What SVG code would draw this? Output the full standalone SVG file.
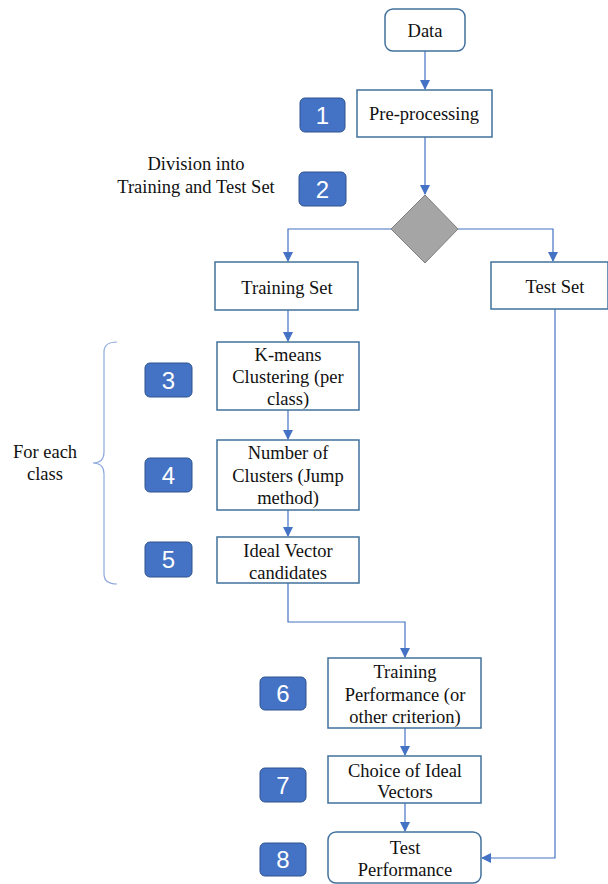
<svg xmlns="http://www.w3.org/2000/svg" width="608" height="884" viewBox="0 0 608 884">
<style>
.box{fill:#fff;stroke:#41719C;stroke-width:1.5}
.t{font-family:'Liberation Serif','Times New Roman','DejaVu Serif',serif;font-size:18.5px;fill:#111;text-anchor:middle}
.badge{fill:#4472C4;stroke:#2F528F;stroke-width:1}
.bt{font-family:'Liberation Sans',Arial,sans-serif;font-size:24px;fill:#fff;text-anchor:middle}
.ln{fill:none;stroke:#4472C4;stroke-width:1.2}
</style>
<defs>
<marker id="ah" markerWidth="10" markerHeight="10" refX="9" refY="5" orient="auto" markerUnits="userSpaceOnUse">
<path d="M0,0 L10,5 L0,10 Z" fill="#4472C4"/>
</marker>
</defs>
<g id="connectors">
<path class="ln" d="M425,51 V89" marker-end="url(#ah)"/>
<path class="ln" d="M425,137 V194" marker-end="url(#ah)"/>
<path class="ln" d="M391,229 H288 V261" marker-end="url(#ah)"/>
<path class="ln" d="M458,229 H553 V261" marker-end="url(#ah)"/>
<path class="ln" d="M288,310 V341" marker-end="url(#ah)"/>
<path class="ln" d="M288,410 V439" marker-end="url(#ah)"/>
<path class="ln" d="M288,510 V536" marker-end="url(#ah)"/>
<path class="ln" d="M288,583 V622 H405 V657" marker-end="url(#ah)"/>
<path class="ln" d="M405,728 V755" marker-end="url(#ah)"/>
<path class="ln" d="M405,803 V831" marker-end="url(#ah)"/>
<path class="ln" d="M555,309 V858 H482" marker-end="url(#ah)"/>
</g>
<g id="data"><rect class="box" x="385" y="9" width="80" height="42" rx="8"/><text class="t" x="425" y="37">Data</text></g>
<g id="preprocessing"><rect class="box" x="357" y="90" width="135" height="47"/><text class="t" x="424" y="120">Pre-processing</text></g>
<g id="division-label"><text class="t" x="196" y="170">Division into</text><text class="t" x="196" y="193">Training and Test Set</text></g>
<g id="decision"><polygon points="425,195 458,229 425,263 391,229" fill="#A5A5A5" stroke="#7F7F7F" stroke-width="1"/></g>
<g id="training-set"><rect class="box" x="215" y="262" width="143" height="48"/><text class="t" x="287" y="294">Training Set</text></g>
<g id="test-set"><rect class="box" x="491" y="262" width="117" height="47"/><text class="t" x="555" y="293">Test Set</text></g>
<g id="kmeans"><rect class="box" x="217" y="342" width="142" height="68"/><text class="t" x="288" y="361">K-means</text><text class="t" x="288" y="383">Clustering (per</text><text class="t" x="288" y="405">class)</text></g>
<g id="num-clusters"><rect class="box" x="217" y="440" width="142" height="70"/><text class="t" x="288" y="459">Number of</text><text class="t" x="288" y="482">Clusters (Jump</text><text class="t" x="288" y="504">method)</text></g>
<g id="ideal-candidates"><rect class="box" x="217" y="537" width="142" height="46"/><text class="t" x="288" y="557">Ideal Vector</text><text class="t" x="288" y="579">candidates</text></g>
<g id="brace"><path d="M117,342 Q104,342 104,352 V452 Q104,463 93,463 Q104,463 104,474 V574 Q104,584 117,584" fill="none" stroke="#8FAADC" stroke-width="1.2"/><text class="t" x="45" y="458">For each</text><text class="t" x="45" y="480">class</text></g>
<g id="training-perf"><rect class="box" x="328" y="658" width="153" height="70"/><text class="t" x="405" y="678">Training</text><text class="t" x="405" y="701">Performance (or</text><text class="t" x="405" y="723">other criterion)</text></g>
<g id="choice"><rect class="box" x="328" y="756" width="153" height="47"/><text class="t" x="405" y="777">Choice of Ideal</text><text class="t" x="405" y="798">Vectors</text></g>
<g id="test-perf"><rect class="box" x="328" y="832" width="153" height="51" rx="8"/><text class="t" x="405" y="854">Test</text><text class="t" x="405" y="876">Performance</text></g>
<g id="badge1"><rect class="badge" x="300" y="98" width="45" height="34" rx="5"/><text class="bt" x="322.5" y="124">1</text></g>
<g id="badge2"><rect class="badge" x="299" y="172" width="47" height="34" rx="5"/><text class="bt" x="322.5" y="198">2</text></g>
<g id="badge3"><rect class="badge" x="145" y="363" width="47" height="34" rx="5"/><text class="bt" x="168.5" y="389">3</text></g>
<g id="badge4"><rect class="badge" x="145" y="458" width="47" height="34" rx="5"/><text class="bt" x="168.5" y="484">4</text></g>
<g id="badge5"><rect class="badge" x="145" y="542" width="47" height="35" rx="5"/><text class="bt" x="168.5" y="568">5</text></g>
<g id="badge6"><rect class="badge" x="260" y="677" width="46" height="33" rx="5"/><text class="bt" x="283" y="702">6</text></g>
<g id="badge7"><rect class="badge" x="260" y="768" width="46" height="34" rx="5"/><text class="bt" x="283" y="794">7</text></g>
<g id="badge8"><rect class="badge" x="260" y="843" width="46" height="33" rx="5"/><text class="bt" x="283" y="868">8</text></g>
</svg>
